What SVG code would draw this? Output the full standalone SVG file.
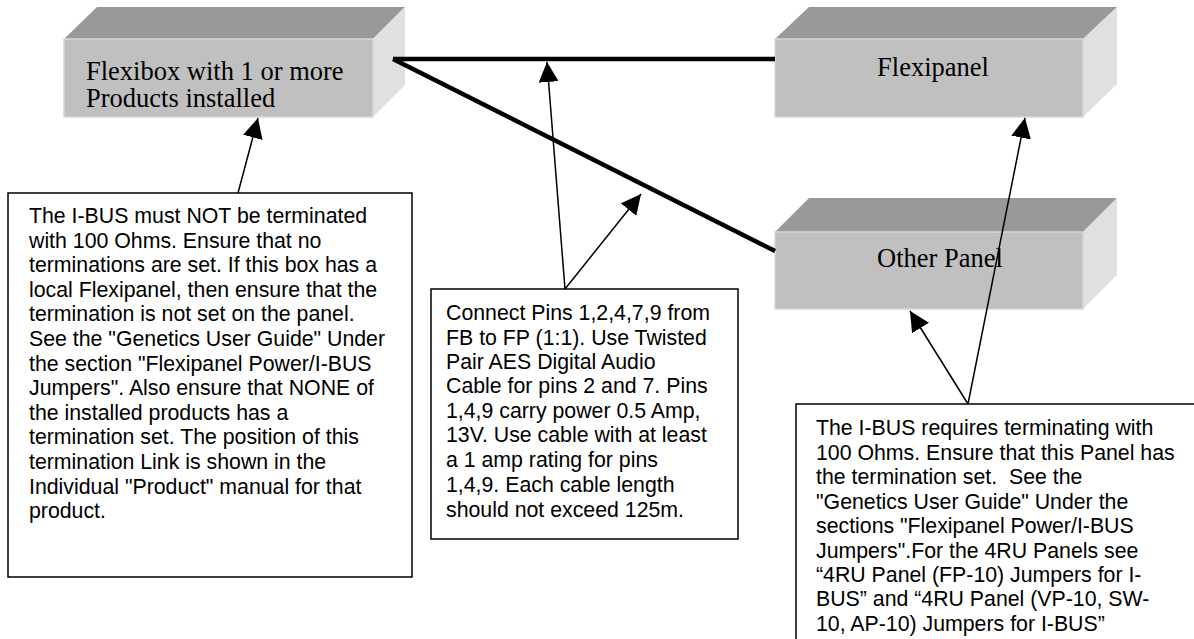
<svg xmlns="http://www.w3.org/2000/svg" width="1194" height="639" viewBox="0 0 1194 639">
<defs>
<style>
.top{fill:#999999}
.front{fill:#c0c0c0;stroke:#d6d6d6;stroke-width:1.5}
.side{fill:#e0e0e0}
.lbl{font-family:"Liberation Serif","Times New Roman",serif;font-size:26.5px;fill:#000}
.note{fill:#fff;stroke:#000;stroke-width:1.5}
.nt{font-family:"Liberation Sans",Arial,sans-serif;font-size:21.3px;fill:#000;white-space:pre}
.bus{stroke:#000;stroke-width:4.5;fill:none}
.ptr{stroke:#000;stroke-width:1.5;fill:none;marker-end:url(#ah)}
</style>
<marker id="ah" viewBox="0 0 20 20" refX="20" refY="10" markerWidth="20" markerHeight="20" markerUnits="userSpaceOnUse" orient="auto">
<path d="M0,0 L20,10 L0,20 z" fill="#000"/>
</marker>
</defs>
<rect width="1194" height="639" fill="#fff"/>

<g id="flexibox">
<polygon class="top" points="64,39 97,7 405,7 373,39"/>
<polygon class="side" points="373,39 405,7 405,85 373,117"/>
<rect class="front" x="64" y="39" width="309" height="78"/>
<text class="lbl" x="86" y="80">Flexibox with 1 or more</text>
<text class="lbl" x="86" y="107">Products installed</text>
</g>

<g id="flexipanel">
<polygon class="top" points="775,39 809,7 1117,7 1083,39"/>
<polygon class="side" points="1083,39 1117,7 1117,84 1083,117"/>
<rect class="front" x="775" y="39" width="308" height="78"/>
<text class="lbl" x="933" y="76" text-anchor="middle">Flexipanel</text>
</g>

<g id="other-panel">
<polygon class="top" points="775,232 809,198 1117,198 1083,232"/>
<polygon class="side" points="1083,232 1117,198 1117,275 1083,309"/>
<rect class="front" x="775" y="232" width="308" height="77"/>
<text class="lbl" x="940" y="267" text-anchor="middle">Other Panel</text>
</g>

<g id="note-flexibox">
<rect class="note" x="8" y="193" width="404" height="384"/>
<text class="nt">
<tspan x="29" y="223">The I-BUS must NOT be terminated</tspan>
<tspan x="29" y="247.6">with 100 Ohms. Ensure that no</tspan>
<tspan x="29" y="272.2">terminations are set. If this box has a</tspan>
<tspan x="29" y="296.8">local Flexipanel, then ensure that the</tspan>
<tspan x="29" y="321.4">termination is not set on the panel.</tspan>
<tspan x="29" y="346">See the "Genetics User Guide" Under</tspan>
<tspan x="29" y="370.6">the section "Flexipanel Power/I-BUS</tspan>
<tspan x="29" y="395.2">Jumpers". Also ensure that NONE of</tspan>
<tspan x="29" y="419.8">the installed products has a</tspan>
<tspan x="29" y="444.4">termination set. The position of this</tspan>
<tspan x="29" y="469">termination Link is shown in the</tspan>
<tspan x="29" y="493.6">Individual "Product" manual for that</tspan>
<tspan x="29" y="518.2">product.</tspan>
</text>
</g>

<g id="note-cable">
<rect class="note" x="431" y="289" width="307" height="250"/>
<text class="nt">
<tspan x="446" y="320">Connect Pins 1,2,4,7,9 from</tspan>
<tspan x="446" y="344.5">FB to FP (1:1). Use Twisted</tspan>
<tspan x="446" y="369">Pair AES Digital Audio</tspan>
<tspan x="446" y="393">Cable for pins 2 and 7. Pins</tspan>
<tspan x="446" y="417.5">1,4,9 carry power 0.5 Amp,</tspan>
<tspan x="446" y="441.5">13V. Use cable with at least</tspan>
<tspan x="446" y="467">a 1 amp rating for pins</tspan>
<tspan x="446" y="492">1,4,9. Each cable length</tspan>
<tspan x="446" y="517">should not exceed 125m.</tspan>
</text>
</g>

<g id="note-panel">
<rect class="note" x="796" y="404" width="410" height="250"/>
<text class="nt">
<tspan x="816" y="435">The I-BUS requires terminating with</tspan>
<tspan x="816" y="459.5">100 Ohms. Ensure that this Panel has</tspan>
<tspan x="816" y="484">the termination set.  See the</tspan>
<tspan x="816" y="508.5">"Genetics User Guide" Under the</tspan>
<tspan x="816" y="533">sections "Flexipanel Power/I-BUS</tspan>
<tspan x="816" y="557.5">Jumpers".For the 4RU Panels see</tspan>
<tspan x="816" y="582">“4RU Panel (FP-10) Jumpers for I-</tspan>
<tspan x="816" y="606">BUS” and “4RU Panel (VP-10, SW-</tspan>
<tspan x="816" y="630.5">10, AP-10) Jumpers for I-BUS”</tspan>
</text>
</g>

<g id="connectors">
<line class="bus" x1="393" y1="59" x2="775" y2="59"/>
<line class="bus" x1="393" y1="59" x2="775" y2="251"/>
<line class="ptr" x1="238" y1="193" x2="258" y2="118"/>
<line class="ptr" x1="565" y1="289" x2="547" y2="62"/>
<line class="ptr" x1="565" y1="289" x2="641" y2="194"/>
<line class="ptr" x1="968" y1="404" x2="1025" y2="118"/>
<line class="ptr" x1="968" y1="404" x2="910" y2="311"/>
</g>
</svg>
